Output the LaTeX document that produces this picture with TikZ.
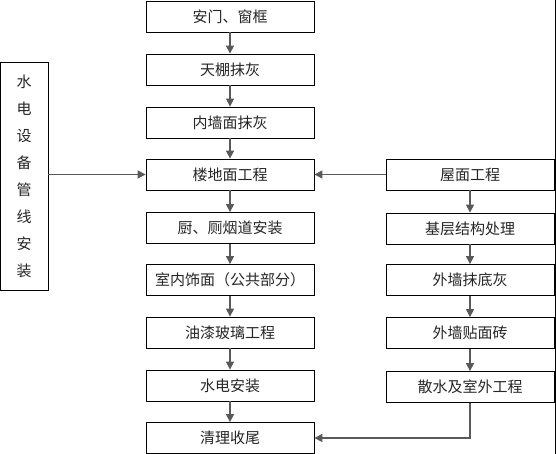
\documentclass[tikz,border=0pt]{standalone}
\usepackage{fontspec}
\setmainfont{Noto Sans CJK SC}
\usetikzlibrary{arrows.meta,positioning}

\begin{document}
\begin{tikzpicture}[x=1pt, y=-1pt,
  stepbox/.style={draw=black, line width=0.8pt, fill=white, rectangle,
    minimum width=168pt, minimum height=31pt, inner sep=0pt,
    font=\fontsize{15}{18}\selectfont, text=black!85},
  roofbox/.style={stepbox, minimum width=168pt},
  sidebox/.style={draw=black, line width=0.8pt, fill=white, rectangle,
    minimum width=48pt, minimum height=228pt, inner sep=0pt, align=center,
    font=\fontsize{15}{27}\selectfont, text=black!85},
  ar/.style={-{Triangle[length=8pt, width=8pt]}, line width=1.2pt, draw=black!60, color=black!65},
]
\useasboundingbox (0,0) rectangle (556,454);

%--- Main sequence ---
\node[stepbox] (m1) at (230, 16.5) {安门、窗框};
\node[stepbox] (m2) at (230, 69.5) {天棚抹灰};
\node[stepbox] (m3) at (230,122.5) {内墙面抹灰};
\node[stepbox] (m4) at (230,174.5) {楼地面工程};
\node[stepbox] (m5) at (230,228.0) {厨、厕烟道安装};
\node[stepbox] (m6) at (230,280.0) {室内饰面（公共部分）};
\node[stepbox] (m7) at (230,332.5) {油漆玻璃工程};
\node[stepbox] (m8) at (230,385.5) {水电安装};
\node[stepbox] (m9) at (230,438.0) {清理收尾};

\draw[ar] (m1) -- (m2);
\draw[ar] (m2) -- (m3);
\draw[ar] (m3) -- (m4);
\draw[ar] (m4) -- (m5);
\draw[ar] (m5) -- (m6);
\draw[ar] (m6) -- (m7);
\draw[ar] (m7) -- (m8);
\draw[ar] (m8) -- (m9);

%--- Roof and facade sequence ---
\node[roofbox] (r1) at (470,174.5) {屋面工程};
\node[roofbox] (r2) at (470,228.5) {基层结构处理};
\node[roofbox] (r3) at (470,280.0) {外墙抹底灰};
\node[roofbox] (r4) at (470,333.0) {外墙贴面砖};
\node[roofbox] (r5) at (470,387.0) {散水及室外工程};

\draw[ar] (r1) -- (r2);
\draw[ar] (r2) -- (r3);
\draw[ar] (r3) -- (r4);
\draw[ar] (r4) -- (r5);
\draw[ar] (r5.south) |- (m9.east);
\draw[ar] (r1.west) -- (m4.east);

%--- Utilities installation ---
\node[sidebox] (util) at (24,176) {水\\电\\设\\备\\管\\线\\安\\装};
\draw[ar] (util.east |- m4) -- (m4.west);

%--- Right edge rule ---
\coordinate (edgetop) at (555,0);
\coordinate (edgebot) at (555,454);
\draw[line width=0.8pt] (edgetop) -- (edgebot);

\end{tikzpicture}
\end{document}
